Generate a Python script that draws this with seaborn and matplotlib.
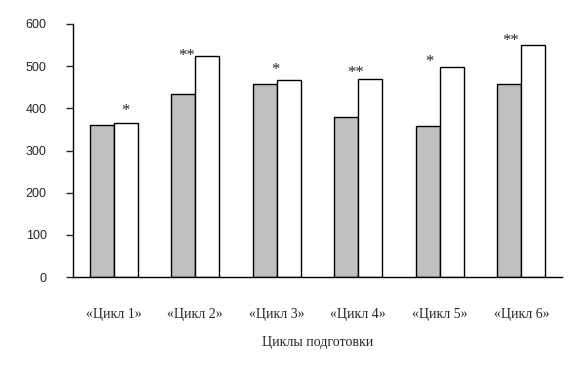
import matplotlib
matplotlib.use("Agg")
import matplotlib.pyplot as plt
import pandas as pd
import seaborn as sns

categories = ["«Цикл 1»", "«Цикл 2»", "«Цикл 3»", "«Цикл 4»", "«Цикл 5»", "«Цикл 6»"]
before = [360, 435, 458, 380, 358, 458]
after = [365, 525, 468, 470, 498, 550]
marks = ["*", "**", "*", "**", "*", "**"]
yticks = [0, 100, 200, 300, 400, 500, 600]

df = pd.DataFrame({
    "cycle": categories * 2,
    "value": before + after,
    "group": ["before"] * len(categories) + ["after"] * len(categories),
})

sns.set_style("white")
plt.rcParams["font.family"] = ["Liberation Serif", "DejaVu Serif"]

fig = plt.figure(figsize=(5.7, 3.69), dpi=100)
ax = fig.add_axes([0.128, 0.249, 0.858, 0.686])

sns.barplot(
    data=df, x="cycle", y="value", hue="group",
    palette={"before": "#c0c0c0", "after": "#ffffff"},
    edgecolor="black", linewidth=1.0, width=0.59, gap=0,
    legend=False, ax=ax,
)

ax.set_ylim(0, 600)
ax.set_xlim(-0.5, len(categories) - 0.5)
ax.set_yticks(yticks)
for s in ["top", "right"]:
    ax.spines[s].set_visible(False)
for s in ["left", "bottom"]:
    ax.spines[s].set_color("black")
    ax.spines[s].set_linewidth(1.0)
ax.tick_params(axis="y", direction="out", length=5, width=1, pad=14, left=True)
ax.tick_params(axis="x", length=0, pad=22.5)
for lbl in ax.get_yticklabels():
    lbl.set_fontfamily("Liberation Sans")
    lbl.set_fontsize(9)
for lbl in ax.get_xticklabels():
    lbl.set_fontsize(10)
ax.set_xlabel("Циклы подготовки", fontsize=10, labelpad=10.5)
ax.set_ylabel("")

# significance marks near the white bars (offsets in pixels)
dx = [0, -21, -13, -15, -22, -23]
dy = [4, -8, 2, -2, -3, -4]
white_bars = ax.patches[len(categories):2 * len(categories)]
for bar, m, ox, oy in zip(white_bars, marks, dx, dy):
    ax.annotate(
        m, (bar.get_x() + bar.get_width() / 2, bar.get_height()),
        xytext=(ox, oy), textcoords="offset pixels",
        ha="center", va="bottom", fontsize=12,
    )

fig.savefig("out.png", dpi=100)
